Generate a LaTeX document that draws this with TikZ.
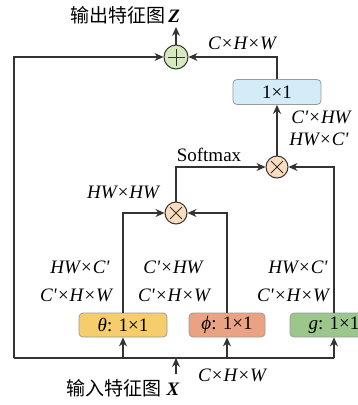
\documentclass[tikz,border=0pt]{standalone}
\usepackage{fontspec}
\setmainfont{Liberation Serif}
\newfontfamily\cjk{Noto Sans CJK SC}
\usetikzlibrary{arrows.meta, positioning, calc}
\definecolor{lineGray}{HTML}{333333}
\definecolor{boxGray}{HTML}{9A9A9A}
\definecolor{addGreen}{HTML}{D8E8C0}
\definecolor{mulOrange}{HTML}{FADCBE}
\definecolor{convBlue}{HTML}{D3ECF8}
\definecolor{thetaYellow}{HTML}{F5CD6B}
\definecolor{phiSalmon}{HTML}{EBA283}
\definecolor{gGreen}{HTML}{9CC78C}
\newcommand{\pr}{\textquotesingle}

\begin{document}
\begin{tikzpicture}[x=1pt, y=-1pt,
    font=\fontsize{19}{23}\selectfont,
    flow/.style={draw=lineGray, line width=1.1pt},
    tip/.style={flow, -{Stealth[length=9pt, width=8pt]}},
    opnode/.style={circle, draw=lineGray, line width=1pt, minimum size=22pt, inner sep=0pt},
    convbox/.style={rectangle, rounded corners=4pt, draw=boxGray, line width=0.8pt,
        minimum height=24pt, inner sep=0pt},
    dimlabel/.style={font=\fontsize{19}{23}\selectfont\itshape}]
    \clip (0,0) rectangle (358,405);

    % Operators
    \node[opnode, fill=addGreen, minimum size=24pt] (add) at (176,57) {};
    \draw[line width=1pt, lineGray] ($(add.center)+(-8.5,0)$) -- ($(add.center)+(8.5,0)$)
        ($(add.center)+(0,-8.5)$) -- ($(add.center)+(0,8.5)$);
    \node[opnode, fill=mulOrange] (mulB) at (277,167) {};
    \node[opnode, fill=mulOrange] (mulA) at (176,213) {};
    \foreach \m in {mulA, mulB} {
        \draw[line width=1pt, lineGray] ($(\m.center)+(-6,-6)$) -- ($(\m.center)+(6,6)$)
            ($(\m.center)+(-6,6)$) -- ($(\m.center)+(6,-6)$);
    }

    % Convolutions
    \node[convbox, fill=convBlue, minimum width=88pt, minimum height=25pt] (conv) at (277,92) {1×1};
    \node[convbox, fill=thetaYellow, minimum width=88pt] (theta) at (123,325) {\textit{θ}: 1×1};
    \node[convbox, fill=phiSalmon, minimum width=76pt] (phi) at (227,325) {\textit{ϕ}: 1×1};
    \node[convbox, fill=gGreen, minimum width=88pt] (gconv) at (334,325) {\textit{g}: 1×1};

    % Input and output
    \node (outlbl) at (125,15) {{\cjk 输出特征图}\,\textbf{\textit{Z}}};
    \node (inlbl) at (123,388) {{\cjk 输入特征图}\;\textbf{\textit{X}}};
    \coordinate (outtip) at (176,27);
    \coordinate (intail) at (176,374);
    \coordinate (injoin) at (176,358);
    \coordinate (bl) at (14,358);
    \coordinate (br) at (334,358);

    % Connectors
    \draw[tip] (add) -- (outtip);
    \draw[tip] (intail) -- (injoin);
    \draw[flow] (bl) -- (br);
    \draw[tip] (bl) |- (add);
    \draw[tip] (theta.south |- bl) -- (theta);
    \draw[tip] (phi.south |- bl) -- (phi);
    \draw[tip] (br) -- (gconv.south |- theta.south);
    \draw[tip] (theta.north) |- (mulA);
    \draw[tip] (phi.north) |- (mulA);
    \draw[tip] (mulA) |- (mulB);
    \draw[tip] (gconv.north) |- (mulB);
    \draw[tip] (mulB) -- (conv);
    \draw[tip] (conv) |- (add);

    % Labels
    \node[dimlabel] at (242,43) {C×H×W};
    \node[dimlabel] at (321,117) {C\pr×HW};
    \node[dimlabel] at (319,139) {HW×C\pr};
    \node at (209,155) {Softmax};
    \node[dimlabel] at (123,192) {HW×HW};
    \node[dimlabel] at (80,267) {HW×C\pr};
    \node[dimlabel] at (173,267) {C\pr×HW};
    \node[dimlabel] at (298,267) {HW×C\pr};
    \node[dimlabel] at (76,295) {C\pr×H×W};
    \node[dimlabel] at (174,295) {C\pr×H×W};
    \node[dimlabel] at (293,295) {C\pr×H×W};
    \node[dimlabel] at (232,375) {C×H×W};
\end{tikzpicture}
\end{document}
